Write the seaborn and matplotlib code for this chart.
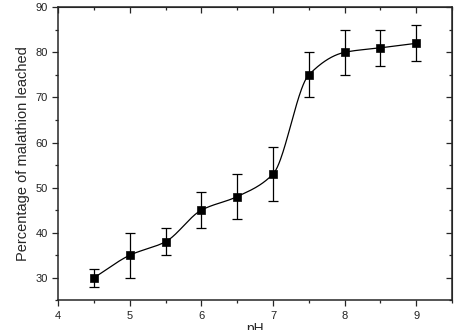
import numpy as np
import pandas as pd
import matplotlib
matplotlib.use("Agg")
import matplotlib.pyplot as plt
import seaborn as sns
from matplotlib.ticker import MultipleLocator

ph = [4.5, 5.0, 5.5, 6.0, 6.5, 7.0, 7.5, 8.0, 8.5, 9.0]
leached = [30, 35, 38, 45, 48, 53, 75, 80, 81, 82]
err = [2, 5, 3, 4, 5, 6, 5, 5, 4, 4]

sns.set_style("ticks")
plt.rcParams['font.family'] = ['Liberation Sans', 'DejaVu Sans']


def pchip(x, y, xs):
    # monotone cubic (Fritsch-Carlson) for the smooth connecting line
    x = np.asarray(x, float)
    y = np.asarray(y, float)
    h = np.diff(x)
    d = np.diff(y) / h
    m = np.zeros_like(y)
    for k in range(1, len(x) - 1):
        if d[k - 1] * d[k] > 0:
            w1 = 2 * h[k] + h[k - 1]
            w2 = h[k] + 2 * h[k - 1]
            m[k] = (w1 + w2) / (w1 / d[k - 1] + w2 / d[k])
    m[0] = d[0]
    m[-1] = d[-1]
    idx = np.clip(np.searchsorted(x, xs) - 1, 0, len(x) - 2)
    t = (xs - x[idx]) / h[idx]
    h00 = 2 * t**3 - 3 * t**2 + 1
    h10 = t**3 - 2 * t**2 + t
    h01 = -2 * t**3 + 3 * t**2
    h11 = t**3 - t**2
    return (h00 * y[idx] + h10 * h[idx] * m[idx]
            + h01 * y[idx + 1] + h11 * h[idx] * m[idx + 1])


xs = np.linspace(ph[0], ph[-1], 400)
curve = pd.DataFrame({"pH": xs, "val": pchip(ph, leached, xs)})
df = pd.DataFrame({"pH": ph, "val": leached, "err": err})

fig, ax = plt.subplots(figsize=(4.58, 3.3), dpi=100)
sns.lineplot(data=curve, x="pH", y="val", color="black", linewidth=0.9, ax=ax)
ax.errorbar(df["pH"], df["val"], yerr=df["err"], fmt="none", ecolor="black",
            elinewidth=0.9, capsize=3.5, capthick=0.9)
sns.scatterplot(data=df, x="pH", y="val", marker="s", color="black", s=36,
                edgecolor="black", zorder=5, ax=ax)

ax.set_xlim(4, 9.5)
ax.set_ylim(25, 90)
ax.xaxis.set_major_locator(MultipleLocator(1))
ax.xaxis.set_minor_locator(MultipleLocator(0.5))
ax.yaxis.set_major_locator(MultipleLocator(10))
ax.yaxis.set_minor_locator(MultipleLocator(5))
ax.tick_params(which="both", direction="out", labelsize=8, width=0.9,
               labelcolor="#222222")
ax.tick_params(which="major", length=4)
ax.tick_params(which="minor", length=2.5)

# inward ticks on top and right
for side in ["top", "right"]:
    ax.spines[side].set_visible(True)
sec_x = ax.secondary_xaxis("top")
sec_x.xaxis.set_major_locator(MultipleLocator(1))
sec_x.xaxis.set_minor_locator(MultipleLocator(0.5))
sec_x.tick_params(which="both", direction="in", labeltop=False, width=0.9)
sec_x.tick_params(which="major", length=4)
sec_x.tick_params(which="minor", length=2.5)
sec_y = ax.secondary_yaxis("right")
sec_y.yaxis.set_major_locator(MultipleLocator(10))
sec_y.yaxis.set_minor_locator(MultipleLocator(5))
sec_y.tick_params(which="both", direction="in", labelright=False, width=0.9)
sec_y.tick_params(which="major", length=4)
sec_y.tick_params(which="minor", length=2.5)

for s in ax.spines.values():
    s.set_linewidth(1.1)

ax.set_xlabel("pH", fontsize=10, labelpad=1)
ax.set_ylabel("Percentage of malathion leached", fontsize=10.5, labelpad=4)

fig.subplots_adjust(left=0.127, right=0.987, top=0.978, bottom=0.09)
fig.savefig("out.png", dpi=100)
